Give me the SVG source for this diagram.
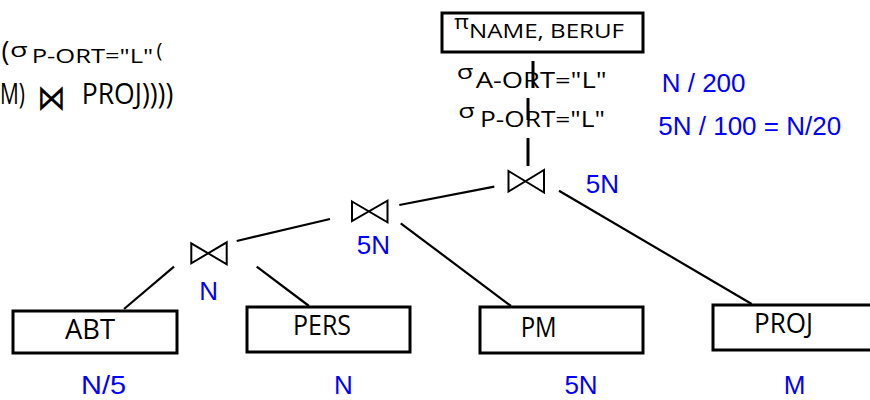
<svg xmlns="http://www.w3.org/2000/svg" width="870" height="400" viewBox="0 0 870 400">
<style>
.bg{fill:#fff}
.box{fill:#fff;stroke:#000;stroke-width:3}
.t{font-family:"Open Sans","Noto Sans",sans-serif;fill:#000}
.bt{font-family:"Open Sans","Noto Sans",sans-serif;font-size:28px;fill:#000}
.b{font-family:"Liberation Sans",Arial,sans-serif;font-size:26px;fill:#0000ff}
.bm{font-family:"Liberation Sans",Arial,sans-serif;font-size:26px;fill:#0000ff;text-anchor:middle}
.ln{stroke:#000;stroke-width:2.2;fill:none}
.vl{stroke:#000;stroke-width:3;fill:none}
.join{fill:none;stroke:#000;stroke-width:2;stroke-linejoin:miter}
</style>
<rect class="bg" x="0" y="0" width="870" height="400"/>

<g id="formula">
  <text class="t" x="1.5" y="61" font-size="27">(</text>
  <text class="t" x="10" y="56.7" font-size="20" textLength="17.7" lengthAdjust="spacingAndGlyphs">σ</text>
  <text class="t" x="31.7" y="63.3" font-size="20" textLength="121.6" lengthAdjust="spacingAndGlyphs">P-ORT="L"</text>
  <text class="t" x="156.5" y="57" font-size="20">(</text>
  <text class="t" x="0" y="104" font-size="29" textLength="25" lengthAdjust="spacingAndGlyphs">M)</text>
  <text transform="translate(51.5,110) scale(0.8,1)" x="0" y="0" text-anchor="middle" font-family="DejaVu Sans,sans-serif" font-size="36">⋈</text>
  <text class="t" x="81.7" y="104" font-size="29" textLength="91.6" lengthAdjust="spacingAndGlyphs">PROJ))))</text>
</g>

<g id="connectors">
  <line class="vl" x1="533" y1="61" x2="533" y2="88"/>
  <line class="vl" x1="528" y1="98" x2="528" y2="120"/>
  <line class="vl" x1="528" y1="138" x2="528" y2="166"/>
  <line class="ln" x1="124" y1="309" x2="174" y2="266.7"/>
  <line class="ln" x1="256.7" y1="266.7" x2="309" y2="306"/>
  <line class="ln" x1="236.7" y1="241" x2="330" y2="219"/>
  <line class="ln" x1="400.7" y1="223.3" x2="511" y2="306"/>
  <line class="ln" x1="399.3" y1="205" x2="494.3" y2="186.7"/>
  <line class="ln" x1="559" y1="190.7" x2="751.7" y2="304"/>
</g>

<g id="projection">
  <rect class="box" x="442" y="13" width="201" height="39"/>
  <text class="t" x="454" y="29" font-size="20" textLength="15" lengthAdjust="spacingAndGlyphs">π</text>
  <text class="t" x="469" y="37.7" font-size="19.5" textLength="155" lengthAdjust="spacingAndGlyphs">NAME, BERUF</text>
</g>

<g id="selectA">
  <text class="t" x="456.7" y="79" font-size="20" textLength="16.6" lengthAdjust="spacingAndGlyphs">σ</text>
  <text class="t" x="475.7" y="88.3" font-size="21" textLength="131" lengthAdjust="spacingAndGlyphs">A-ORT="L"</text>
</g>
<text id="labelA" class="b" x="661.7" y="91.7">N / 200</text>

<g id="selectP">
  <text class="t" x="458.3" y="117.7" font-size="20" textLength="16.6" lengthAdjust="spacingAndGlyphs">σ</text>
  <text class="t" x="480" y="126.7" font-size="21" textLength="125" lengthAdjust="spacingAndGlyphs">P-ORT="L"</text>
</g>
<text id="labelP" class="b" x="658.3" y="135">5N / 100 = N/20</text>

<g id="join3">
  <path class="join" d="M508.5,171 L544,192.5 L544,170 L508.5,191.5 Z"/>
  <text class="b" x="585.7" y="192.7">5N</text>
</g>

<g id="join2">
  <path class="join" d="M352,201.5 L387.5,222.3 L387.5,200.7 L352,221 Z"/>
  <text class="b" x="356.7" y="254.3">5N</text>
</g>

<g id="join1">
  <path class="join" d="M191.3,243.3 L226.7,264.3 L226.7,242.3 L191.3,263.3 Z"/>
  <text class="b" x="199.3" y="300">N</text>
</g>

<g id="ABT">
  <rect class="box" x="13" y="311" width="164" height="42"/>
  <text class="bt" x="65" y="339" textLength="50" lengthAdjust="spacingAndGlyphs">ABT</text>
  <text class="bm" x="103.5" y="394" textLength="45" lengthAdjust="spacingAndGlyphs">N/5</text>
</g>

<g id="PERS">
  <rect class="box" x="247" y="307" width="163" height="45"/>
  <text class="bt" x="293" y="335" textLength="58" lengthAdjust="spacingAndGlyphs">PERS</text>
  <text class="bm" x="343.5" y="394">N</text>
</g>

<g id="PM">
  <rect class="box" x="480" y="307" width="163" height="46"/>
  <text class="bt" x="520.7" y="337.3" textLength="36" lengthAdjust="spacingAndGlyphs">PM</text>
  <text class="bm" x="581" y="394">5N</text>
</g>

<g id="PROJ">
  <rect class="box" x="713" y="305" width="170" height="45"/>
  <text class="bt" x="754" y="333" textLength="59" lengthAdjust="spacingAndGlyphs">PROJ</text>
  <text class="bm" x="794.5" y="394">M</text>
</g>
</svg>
